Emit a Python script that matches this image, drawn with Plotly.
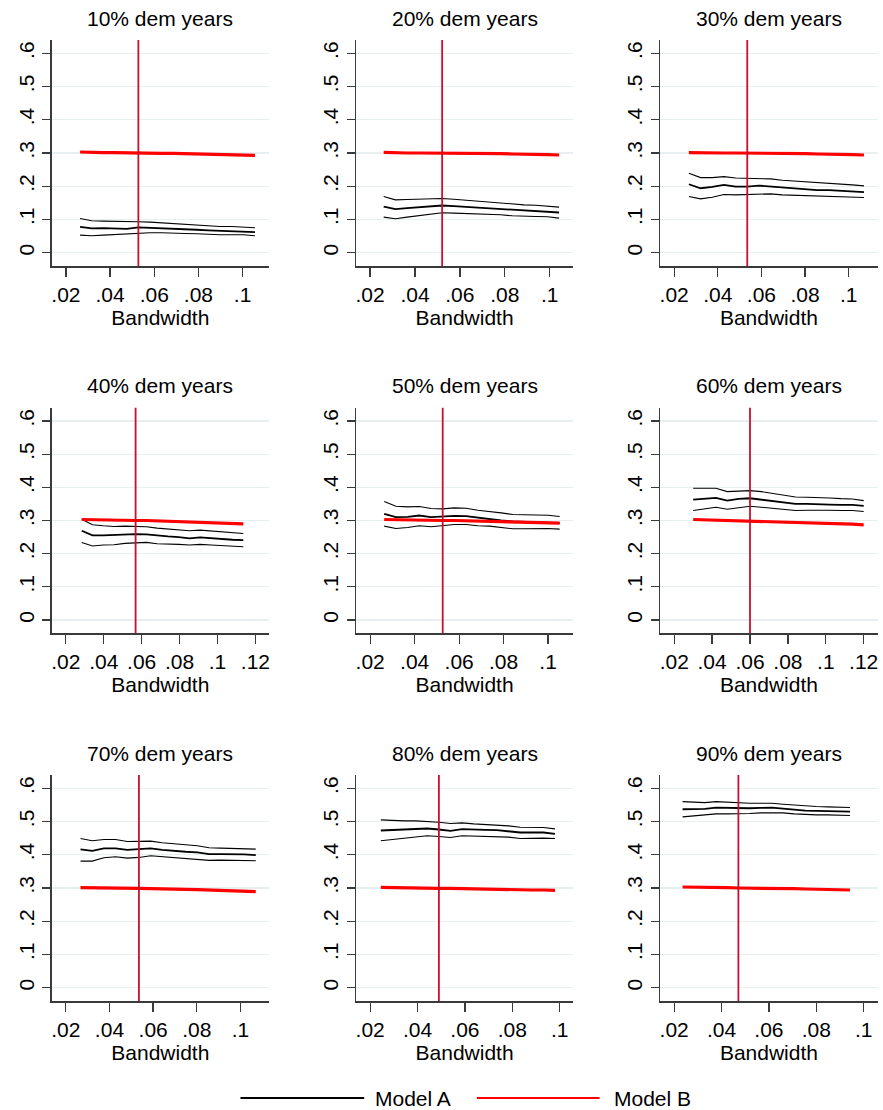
import plotly.graph_objects as go

W, H = 883, 1110

titles = ["10% dem years", "20% dem years", "30% dem years",
          "40% dem years", "50% dem years", "60% dem years",
          "70% dem years", "80% dem years", "90% dem years"]

# optimal bandwidth per panel (vertical line) and bandwidth multiples used
bw_opt = [0.0528, 0.0521, 0.0535, 0.0568, 0.0526, 0.0600, 0.0535, 0.0490, 0.0471]
bw_scale = [0.5, 0.6, 0.7, 0.8, 0.9, 1.0, 1.1, 1.2, 1.3, 1.4, 1.5, 1.6, 1.7, 1.8, 1.9, 2.0]

xtick_vals = [[0.02, 0.04, 0.06, 0.08, 0.1]] * 3 + \
             [[0.02, 0.04, 0.06, 0.08, 0.1, 0.12], [0.02, 0.04, 0.06, 0.08, 0.1],
              [0.02, 0.04, 0.06, 0.08, 0.1, 0.12]] + [[0.02, 0.04, 0.06, 0.08, 0.1]] * 3
xtick_text = {0.02: ".02", 0.04: ".04", 0.06: ".06", 0.08: ".08", 0.1: ".1", 0.12: ".12"}
ytick_vals = [0, 0.1, 0.2, 0.3, 0.4, 0.5, 0.6]
ytick_text = ["0", ".1", ".2", ".3", ".4", ".5", ".6"]

# Model A: upper CI, estimate, lower CI
a_upper = [
    [0.103, 0.096, 0.095, 0.095, 0.093, 0.093, 0.092, 0.090, 0.088, 0.086, 0.084, 0.080, 0.079, 0.079, 0.078, 0.075],
    [0.169, 0.159, 0.160, 0.161, 0.162, 0.163, 0.161, 0.158, 0.155, 0.153, 0.151, 0.147, 0.144, 0.143, 0.141, 0.137],
    [0.239, 0.226, 0.226, 0.229, 0.225, 0.224, 0.225, 0.222, 0.218, 0.216, 0.213, 0.210, 0.209, 0.207, 0.204, 0.201],
    [0.304, 0.287, 0.284, 0.282, 0.283, 0.283, 0.281, 0.277, 0.275, 0.273, 0.269, 0.271, 0.268, 0.265, 0.263, 0.261],
    [0.357, 0.343, 0.341, 0.342, 0.336, 0.335, 0.338, 0.337, 0.331, 0.328, 0.323, 0.318, 0.317, 0.317, 0.316, 0.312],
    [0.397, 0.397, 0.397, 0.387, 0.389, 0.390, 0.387, 0.382, 0.376, 0.371, 0.370, 0.370, 0.368, 0.366, 0.365, 0.360],
    [0.449, 0.442, 0.446, 0.446, 0.440, 0.440, 0.441, 0.436, 0.432, 0.430, 0.427, 0.421, 0.420, 0.419, 0.418, 0.417],
    [0.505, 0.503, 0.502, 0.502, 0.501, 0.498, 0.494, 0.496, 0.493, 0.491, 0.490, 0.487, 0.483, 0.482, 0.482, 0.478],
    [0.560, 0.558, 0.557, 0.560, 0.558, 0.557, 0.555, 0.555, 0.555, 0.552, 0.549, 0.546, 0.545, 0.544, 0.543, 0.542],
]
a_est = [
    [0.078, 0.073, 0.074, 0.074, 0.072, 0.076, 0.075, 0.074, 0.071, 0.070, 0.069, 0.067, 0.066, 0.066, 0.065, 0.062],
    [0.139, 0.131, 0.134, 0.137, 0.139, 0.142, 0.140, 0.138, 0.135, 0.133, 0.131, 0.128, 0.126, 0.126, 0.124, 0.121],
    [0.206, 0.194, 0.198, 0.204, 0.199, 0.199, 0.202, 0.199, 0.195, 0.193, 0.191, 0.188, 0.188, 0.186, 0.184, 0.182],
    [0.269, 0.255, 0.255, 0.256, 0.259, 0.259, 0.258, 0.254, 0.252, 0.250, 0.246, 0.249, 0.246, 0.243, 0.242, 0.241],
    [0.320, 0.310, 0.311, 0.315, 0.310, 0.312, 0.314, 0.313, 0.308, 0.305, 0.300, 0.297, 0.296, 0.296, 0.295, 0.292],
    [0.363, 0.366, 0.368, 0.360, 0.365, 0.367, 0.363, 0.359, 0.354, 0.350, 0.350, 0.350, 0.348, 0.347, 0.347, 0.344],
    [0.416, 0.412, 0.419, 0.419, 0.415, 0.416, 0.419, 0.415, 0.411, 0.409, 0.407, 0.402, 0.402, 0.402, 0.401, 0.399],
    [0.473, 0.475, 0.477, 0.478, 0.479, 0.476, 0.472, 0.477, 0.475, 0.475, 0.474, 0.471, 0.467, 0.467, 0.467, 0.463],
    [0.537, 0.537, 0.538, 0.542, 0.541, 0.540, 0.540, 0.541, 0.542, 0.539, 0.535, 0.533, 0.532, 0.531, 0.531, 0.530],
]
a_lower = [
    [0.053, 0.051, 0.053, 0.055, 0.056, 0.060, 0.060, 0.060, 0.058, 0.058, 0.057, 0.055, 0.054, 0.054, 0.054, 0.051],
    [0.107, 0.102, 0.107, 0.111, 0.116, 0.120, 0.119, 0.118, 0.116, 0.115, 0.114, 0.111, 0.109, 0.109, 0.108, 0.104],
    [0.169, 0.162, 0.167, 0.175, 0.174, 0.175, 0.178, 0.177, 0.174, 0.173, 0.172, 0.170, 0.171, 0.170, 0.168, 0.166],
    [0.234, 0.223, 0.226, 0.227, 0.231, 0.233, 0.234, 0.230, 0.230, 0.228, 0.226, 0.228, 0.226, 0.224, 0.222, 0.221],
    [0.283, 0.276, 0.279, 0.284, 0.281, 0.284, 0.288, 0.288, 0.284, 0.283, 0.279, 0.275, 0.275, 0.276, 0.276, 0.274],
    [0.330, 0.336, 0.340, 0.334, 0.339, 0.343, 0.340, 0.337, 0.334, 0.330, 0.331, 0.332, 0.331, 0.330, 0.330, 0.327],
    [0.381, 0.381, 0.391, 0.394, 0.390, 0.392, 0.397, 0.394, 0.391, 0.389, 0.387, 0.383, 0.384, 0.384, 0.384, 0.382],
    [0.442, 0.446, 0.450, 0.453, 0.457, 0.455, 0.452, 0.457, 0.456, 0.456, 0.455, 0.453, 0.449, 0.450, 0.450, 0.449],
    [0.514, 0.517, 0.520, 0.523, 0.523, 0.523, 0.524, 0.526, 0.527, 0.526, 0.523, 0.521, 0.520, 0.520, 0.519, 0.518],
]
# Model B estimate
b_est = [
    [0.303, 0.301, 0.301, 0.301, 0.300, 0.300, 0.300, 0.299, 0.299, 0.298, 0.298, 0.297, 0.296, 0.295, 0.294, 0.293],
    [0.302, 0.300, 0.300, 0.300, 0.300, 0.300, 0.299, 0.299, 0.299, 0.298, 0.298, 0.297, 0.297, 0.296, 0.295, 0.294],
    [0.301, 0.300, 0.300, 0.300, 0.300, 0.300, 0.299, 0.299, 0.299, 0.298, 0.298, 0.297, 0.297, 0.296, 0.295, 0.294],
    [0.303, 0.302, 0.302, 0.301, 0.301, 0.300, 0.300, 0.299, 0.298, 0.297, 0.296, 0.295, 0.294, 0.293, 0.292, 0.290],
    [0.303, 0.302, 0.302, 0.301, 0.301, 0.300, 0.300, 0.299, 0.299, 0.298, 0.297, 0.296, 0.295, 0.294, 0.293, 0.292],
    [0.303, 0.302, 0.301, 0.301, 0.300, 0.299, 0.299, 0.298, 0.297, 0.296, 0.295, 0.294, 0.292, 0.291, 0.289, 0.287],
    [0.301, 0.301, 0.300, 0.300, 0.299, 0.299, 0.298, 0.298, 0.297, 0.296, 0.295, 0.294, 0.293, 0.292, 0.291, 0.289],
    [0.302, 0.301, 0.301, 0.300, 0.300, 0.299, 0.299, 0.298, 0.298, 0.297, 0.297, 0.296, 0.295, 0.294, 0.294, 0.293],
    [0.303, 0.303, 0.302, 0.302, 0.301, 0.300, 0.300, 0.299, 0.299, 0.298, 0.298, 0.297, 0.296, 0.295, 0.295, 0.294],
]

# layout (pixels) -------------------------------------------------------------
col_px = [(50.7, 268.7), (356.0, 573.3), (660.7, 878.7)]
row_px = [(40.0, 266.0), (407.7, 633.3), (775.0, 1001.0)]
title_y_px = [18, 385, 753]
x_ranges = [[0.0135, 0.1120], [0.0138, 0.1104], [0.0136, 0.1133],
            [0.0125, 0.1272], [0.0137, 0.1112], [0.0126, 0.1274],
            [0.0135, 0.1131], [0.0141, 0.1056], [0.0141, 0.1059]]
y_range = [-0.04, 0.64]

FONT = "Liberation Sans, Arial, Helvetica, sans-serif"
FS = 21
AXIS_COLOR = "#3a3a3a"
GRID_COLOR = "#e8eff1"
VLINE_COLOR = "#c8102e"

fig = go.Figure()
annotations = []
shapes = []

for i in range(9):
    r, c = divmod(i, 3)
    n = i + 1
    xa = "x" if n == 1 else f"x{n}"
    ya = "y" if n == 1 else f"y{n}"
    bw = [round(bw_opt[i] * s, 5) for s in bw_scale]

    common = dict(xaxis=xa, yaxis=ya, mode="lines", hoverinfo="skip")
    fig.add_trace(go.Scatter(x=bw, y=a_upper[i], line=dict(color="black", width=1.1),
                             showlegend=False, **common))
    fig.add_trace(go.Scatter(x=bw, y=a_lower[i], line=dict(color="black", width=1.1),
                             showlegend=False, **common))
    fig.add_trace(go.Scatter(x=bw, y=a_est[i], line=dict(color="black", width=1.8),
                             name="Model A", showlegend=False, **common))
    fig.add_trace(go.Scatter(x=bw, y=b_est[i], line=dict(color="#ff0000", width=3.2),
                             name="Model B", showlegend=False, **common))

    x0, x1 = col_px[c]
    y0, y1 = row_px[r]
    xdom = [x0 / W, x1 / W]
    ydom = [1 - y1 / H, 1 - y0 / H]

    fig.layout[f"xaxis{'' if n == 1 else n}"] = dict(
        domain=xdom, anchor=ya, range=x_ranges[i],
        tickmode="array", tickvals=xtick_vals[i],
        ticktext=[xtick_text[v] for v in xtick_vals[i]],
        ticks="outside", ticklen=9, tickwidth=1.3, tickcolor=AXIS_COLOR,
        showline=True, linecolor=AXIS_COLOR, linewidth=1.5,
        showgrid=False, zeroline=False,
        tickfont=dict(family=FONT, size=FS, color="black"),
        title=dict(text="Bandwidth", font=dict(family=FONT, size=FS, color="black"), standoff=5),
    )
    fig.layout[f"yaxis{'' if n == 1 else n}"] = dict(
        domain=ydom, anchor=xa, range=y_range,
        tickmode="array", tickvals=ytick_vals, ticktext=ytick_text, tickangle=-90,
        ticks="outside", ticklen=8, tickwidth=1.3, tickcolor=AXIS_COLOR,
        showline=True, linecolor=AXIS_COLOR, linewidth=1.5,
        showgrid=True, gridcolor=GRID_COLOR, gridwidth=1.3, zeroline=False,
        tickfont=dict(family=FONT, size=FS, color="black"),
    )

    # optimal bandwidth vertical line
    shapes.append(dict(type="line", xref=xa, yref=f"{ya} domain",
                       x0=bw_opt[i], x1=bw_opt[i], y0=0, y1=1,
                       line=dict(color=VLINE_COLOR, width=1.8), layer="above"))

    annotations.append(dict(text=titles[i], xref="paper", yref="paper",
                            x=(xdom[0] + xdom[1]) / 2, y=1 - title_y_px[r] / H,
                            xanchor="center", yanchor="middle", showarrow=False,
                            font=dict(family=FONT, size=FS, color="black")))

# legend (drawn manually to mimic the long key lines)
leg_y = 1 - 1098 / H
shapes.append(dict(type="line", xref="paper", yref="paper", x0=240 / W, x1=364 / W,
                   y0=leg_y, y1=leg_y, line=dict(color="black", width=2.2)))
shapes.append(dict(type="line", xref="paper", yref="paper", x0=477 / W, x1=600 / W,
                   y0=leg_y, y1=leg_y, line=dict(color="#ff0000", width=2.2)))
annotations.append(dict(text="Model A", xref="paper", yref="paper", x=373 / W, y=leg_y,
                        xanchor="left", yanchor="middle", showarrow=False,
                        font=dict(family=FONT, size=FS, color="black")))
annotations.append(dict(text="Model B", xref="paper", yref="paper", x=612 / W, y=leg_y,
                        xanchor="left", yanchor="middle", showarrow=False,
                        font=dict(family=FONT, size=FS, color="black")))

fig.update_layout(
    width=W, height=H,
    margin=dict(l=0, r=0, t=0, b=0),
    paper_bgcolor="white", plot_bgcolor="white",
    showlegend=False, hovermode=False,
    annotations=annotations, shapes=shapes,
    font=dict(family=FONT, size=FS, color="black"),
)

fig.write_html("out.html", config={"displayModeBar": False, "staticPlot": True},
               post_script="document.body.style.margin='0';document.body.style.overflow='hidden';")
